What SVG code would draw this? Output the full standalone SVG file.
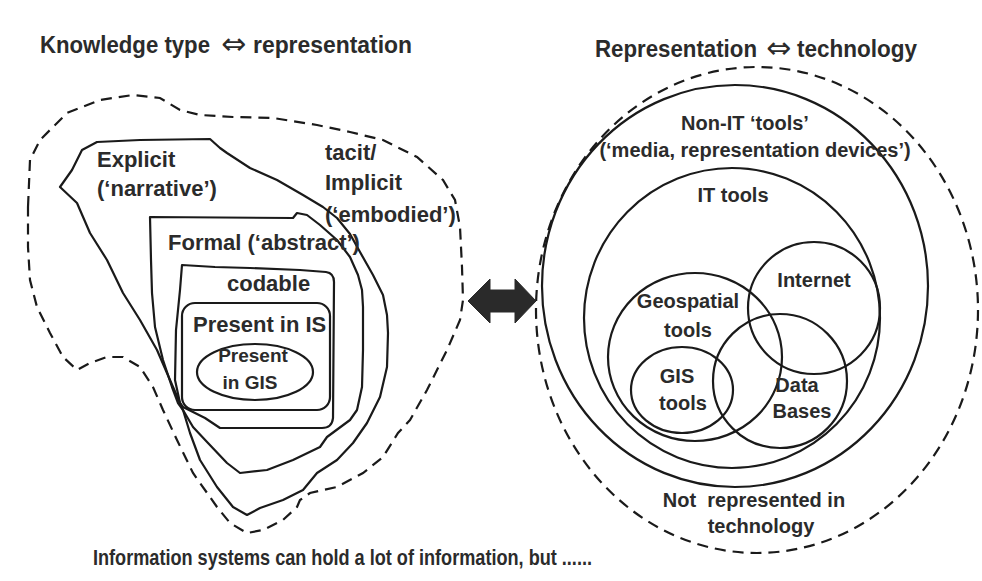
<svg xmlns="http://www.w3.org/2000/svg" width="982" height="581" viewBox="0 0 982 581">
<style>
.ln{fill:none;stroke:#1a1a1a;stroke-width:2.2;stroke-linejoin:round;stroke-linecap:round}
.ds{fill:none;stroke:#1a1a1a;stroke-width:2.2;stroke-dasharray:11 7}
.t{font-family:"Liberation Sans",Arial,sans-serif;font-weight:bold;fill:#2b2b2b}
.tl{font-size:22px}
.tr{font-size:20px;text-anchor:middle}
.ti{font-size:23px}
.ar{font-family:"DejaVu Sans",sans-serif;font-weight:normal;font-size:30px}
</style>
<rect width="982" height="581" fill="#ffffff"/>
<g id="titles">
<text class="t ti" x="40" y="53" textLength="170" lengthAdjust="spacingAndGlyphs">Knowledge type</text>
<text class="t ti ar" x="221" y="54">⇔</text>
<text class="t ti" x="253" y="53" textLength="159" lengthAdjust="spacingAndGlyphs">representation</text>
<text class="t ti" x="595" y="57" textLength="162" lengthAdjust="spacingAndGlyphs">Representation</text>
<text class="t ti ar" x="766" y="58">⇔</text>
<text class="t ti" x="797" y="57" textLength="120" lengthAdjust="spacingAndGlyphs">technology</text>
</g>
<g id="tacit">
<path class="ds" d="M28,207 L30,160 L40,140 L67,113 L100,100 L133,95 L160,98 L180,110 L200,115 L233,117 L273,118 L317,125 L350,132 L383,140 L417,157 L443,180 L455,200 L460,227 L462,267 L463,300 L460,320 L447,350 L427,390 L410,420 L398,433 L383,457 L363,473 L337,487 L310,493 L300,500 L297,507 L283,520 L263,530 L247,533 L230,523 L217,507 L193,473 L177,440 L163,410 L153,387 L140,367 L123,357 L107,357 L90,363 L77,370 L63,357 L50,333 L37,307 L30,280 L28,247 Z"/>
<text class="t tl" x="325" y="160">tacit/</text>
<text class="t tl" x="325" y="190">Implicit</text>
<text class="t tl" x="325" y="222">(‘embodied’)</text>
</g>
<g id="explicit">
<path class="ln" d="M60,187 L72,170 L82,150 L97,142 L140,140 L210,139 L220,148 L227,153 L250,168 L277,180 L303,195 L323,207 L337,218 L350,234 L360,252 L373,275 L383,295 L387,315 L388,333 L387,367 L380,397 L367,423 L353,443 L337,460 L317,473 L303,490 L283,500 L260,508 L247,515 L233,507 L217,487 L200,460 L190,433 L183,410 L180,403 L170,380 L157,350 L140,320 L123,293 L107,260 L90,233 L77,203 Z"/>
<text class="t tl" x="97" y="167">Explicit</text>
<text class="t tl" x="97" y="196">(‘narrative’)</text>
</g>
<g id="formal">
<path class="ln" d="M150,217 L293,218 L297,213 L307,215 L320,225 L337,240 L350,257 L358,275 L362,290 L363,307 L363,350 L362,387 L357,410 L350,420 L327,437 L320,447 L293,460 L267,470 L240,473 L227,463 L208,443 L193,427 L183,410 L178,403 L172,387 L163,360 L155,327 L152,293 L151,260 Z"/>
<text class="t tl" x="168" y="250">Formal (‘abstract’)</text>
</g>
<g id="codable">
<path class="ln" d="M182,265 L215,267 L250,268 L300,270 L326,272 Q334,273 334,282 L333,418 Q332,428 322,428 L220,428 L205,418 L183,407 L180,403 L175,380 L176,330 L180,290 Z"/>
<text class="t tl" x="227" y="291">codable</text>
</g>
<g id="present-is">
<rect class="ln" x="182" y="303" width="148" height="107" rx="13"/>
<text class="t tl" x="193" y="332">Present in IS</text>
</g>
<g id="present-gis">
<ellipse class="ln" cx="255" cy="372" rx="58" ry="28"/>
<text class="t" font-size="19" text-anchor="middle" x="253" y="362">Present</text>
<text class="t" font-size="19" text-anchor="middle" x="250" y="389">in GIS</text>
</g>
<g id="not-represented">
<ellipse class="ds" cx="757" cy="310" rx="221" ry="243"/>
<text class="t tr" x="754" y="507" xml:space="preserve">Not  represented in</text>
<text class="t tr" x="761" y="533">technology</text>
</g>
<g id="non-it">
<ellipse class="ln" cx="735" cy="286" rx="193" ry="201"/>
<text class="t tr" x="745" y="130">Non-IT ‘tools’</text>
<text class="t tr" x="755" y="157">(‘media, representation devices’)</text>
</g>
<g id="it-tools">
<ellipse class="ln" cx="732" cy="318" rx="148" ry="150"/>
<text class="t tr" x="733" y="202">IT tools</text>
</g>
<g id="geospatial">
<ellipse class="ln" cx="695" cy="357" rx="87" ry="84"/>
<text class="t tr" x="688" y="308">Geospatial</text>
<text class="t tr" x="688" y="337">tools</text>
</g>
<g id="internet">
<ellipse class="ln" cx="814" cy="308" rx="66" ry="66"/>
<text class="t tr" x="814" y="287">Internet</text>
</g>
<g id="databases">
<ellipse class="ln" cx="780" cy="381" rx="67" ry="67"/>
<text class="t tr" x="797" y="392">Data</text>
<text class="t tr" x="802" y="418">Bases</text>
</g>
<g id="gis-tools">
<ellipse class="ln" cx="682" cy="390" rx="51" ry="43"/>
<text class="t tr" x="677" y="383">GIS</text>
<text class="t tr" x="683" y="410">tools</text>
</g>
<g id="connectors">
<path d="M468,301 L490,279 L490,290 L515,290 L515,279 L536,301 L515,323 L515,312 L490,312 L490,323 Z" fill="#2a2a2a" stroke="#2a2a2a" stroke-width="1" stroke-linejoin="round"/>
</g>
<g id="caption">
<text class="t" font-size="22" x="93" y="565" textLength="499" lengthAdjust="spacingAndGlyphs">Information systems can hold a lot of information, but ......</text>
</g>
</svg>
